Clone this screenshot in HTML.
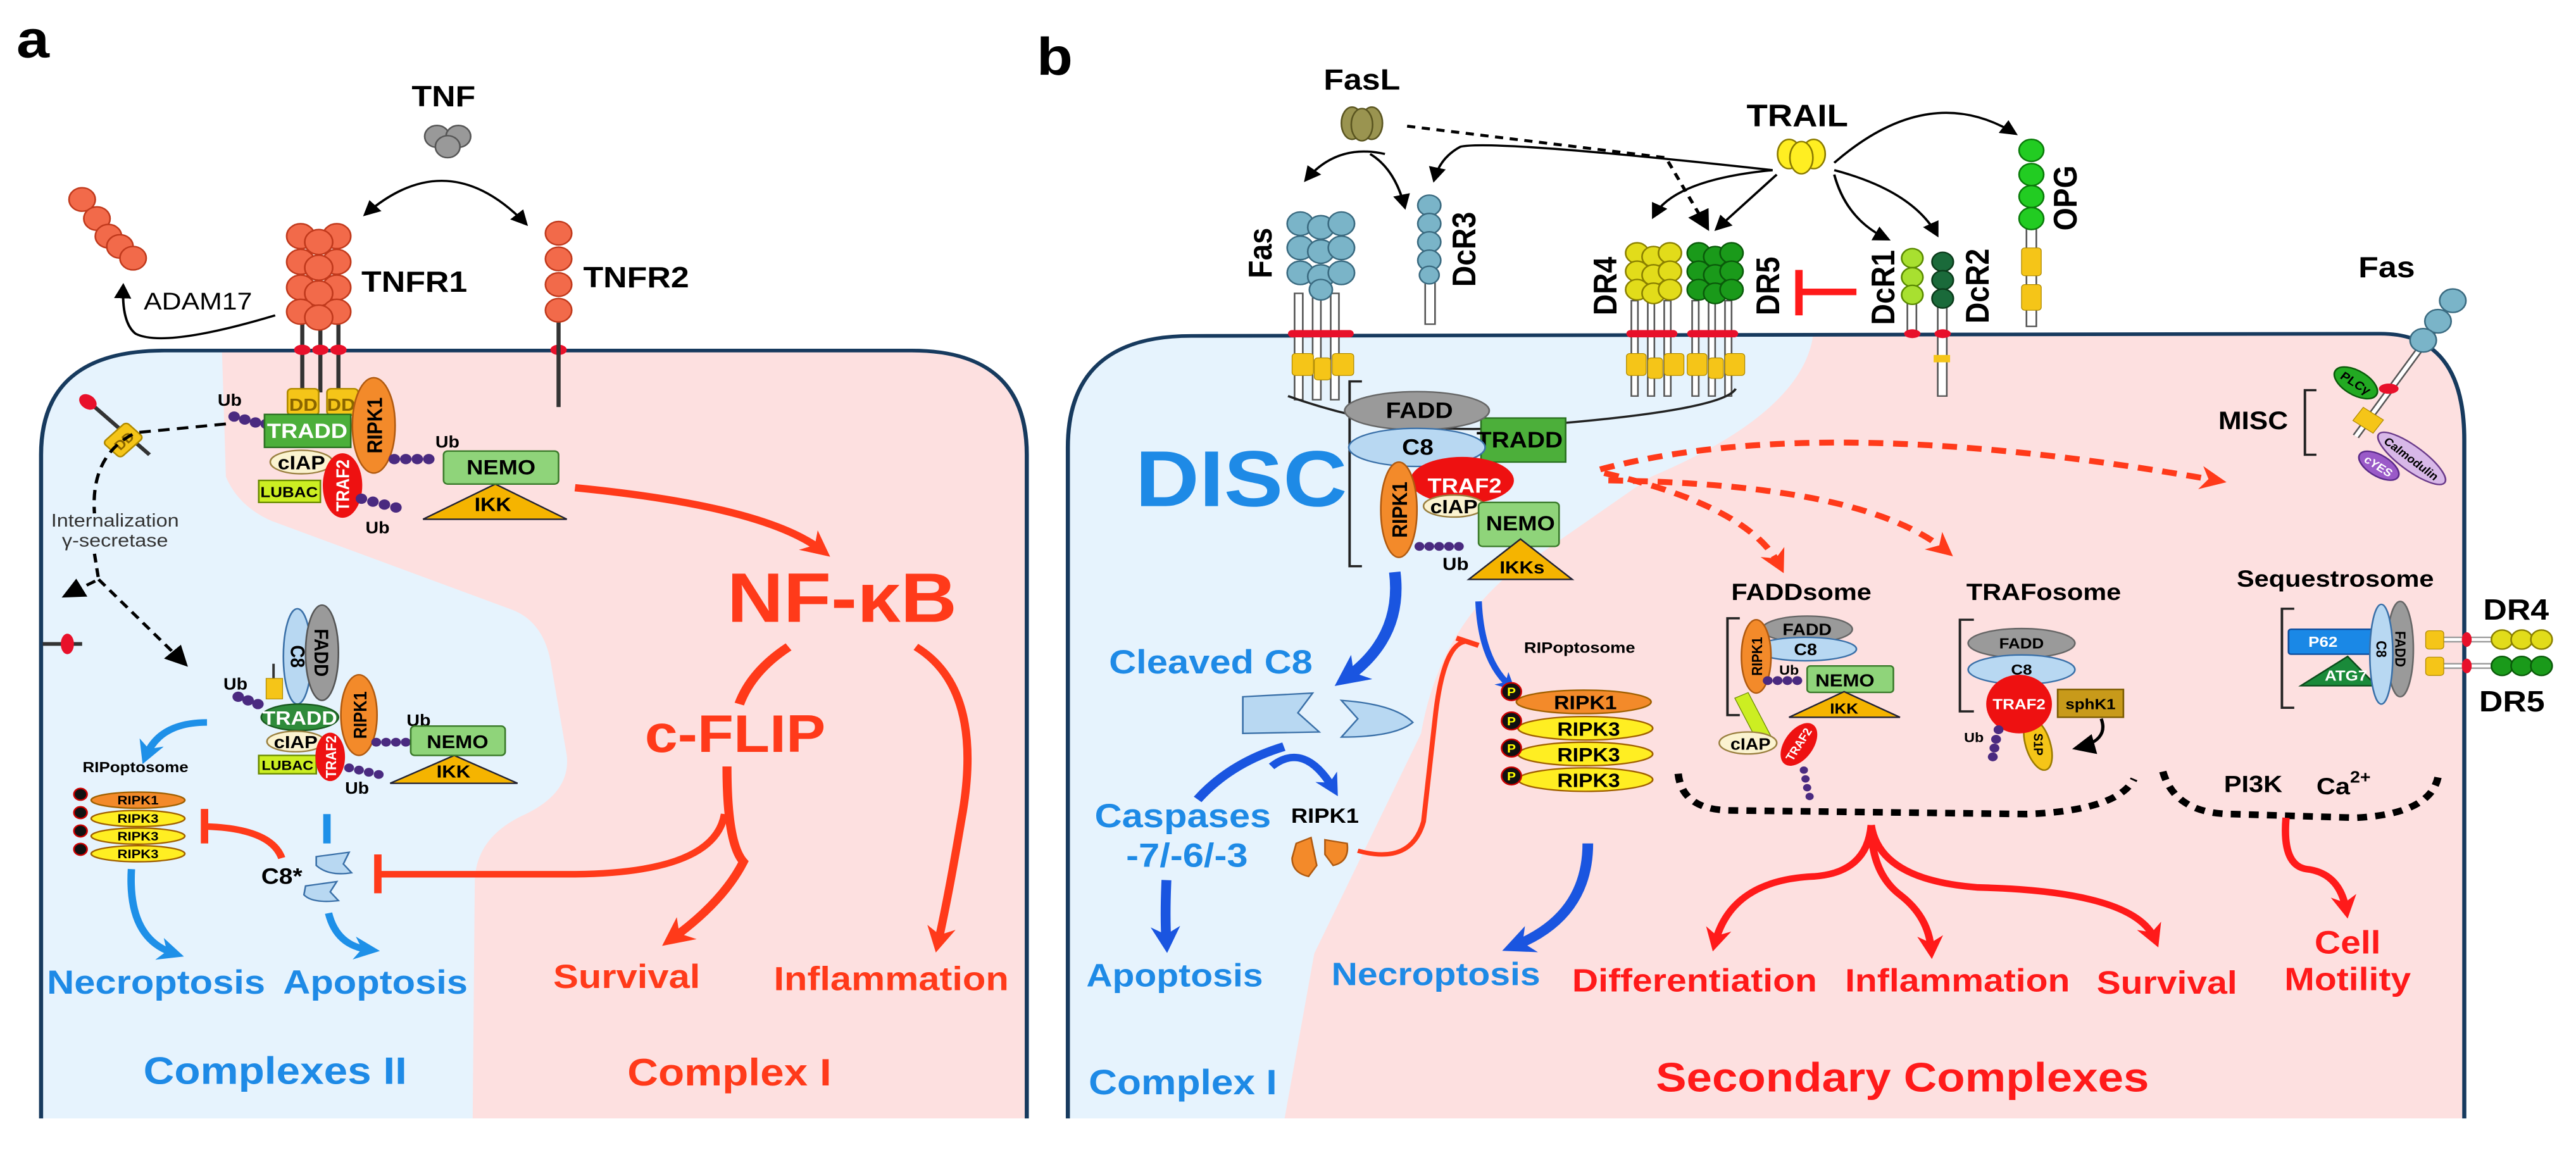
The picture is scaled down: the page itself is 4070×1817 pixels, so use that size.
<!DOCTYPE html>
<html><head><meta charset="utf-8"><style>
html,body{margin:0;padding:0;background:#fff;overflow:hidden}
svg{display:block}
text{font-family:"Liberation Sans",Arial,sans-serif;font-weight:bold}
</style></head><body>
<svg width="4070" height="1817" viewBox="0 0 3136 1568" preserveAspectRatio="none" xmlns="http://www.w3.org/2000/svg">
<defs>
<marker id="mk" viewBox="0 0 10 10" refX="8" refY="5" markerWidth="7" markerHeight="7" orient="auto-start-reverse"><path d="M0,0L10,5L0,10z" fill="#000"/></marker>
<marker id="mr" viewBox="0 0 10 10" refX="6" refY="5" markerWidth="3.5" markerHeight="3.5" orient="auto"><path d="M0,0L10,5L0,10L3,5z" fill="#ff3a1a"/></marker>
<marker id="mr2" viewBox="0 0 10 10" refX="6" refY="5" markerWidth="3.5" markerHeight="3.5" orient="auto"><path d="M0,0L10,5L0,10L3,5z" fill="#ff1a1a"/></marker>
<marker id="mrd" viewBox="0 0 10 10" refX="6" refY="5" markerWidth="4" markerHeight="4" orient="auto"><path d="M0,0L10,5L0,10L3,5z" fill="#ff3a1a"/></marker>
<marker id="mb" viewBox="0 0 10 10" refX="6" refY="5" markerWidth="3.5" markerHeight="3.5" orient="auto"><path d="M0,0L10,5L0,10L3,5z" fill="#1e90e8"/></marker>
<marker id="md" viewBox="0 0 10 10" refX="6" refY="5" markerWidth="3" markerHeight="3" orient="auto"><path d="M0,0L10,5L0,10L3,5z" fill="#1a55e0"/></marker>
<clipPath id="ca"><path d="M50,1525 L50,620 Q50,478 200,478 L1110,478 Q1250,478 1250,620 L1250,1525 Z"/></clipPath>
<clipPath id="cb"><path d="M1300,1525 L1300,610 Q1300,458 1450,458 L2898,455 Q3000,455 3000,600 L3000,1525 Z"/></clipPath>
</defs>

<path d="M50,1525 L50,620 Q50,478 200,478 L1110,478 Q1250,478 1250,620 L1250,1525 Z" fill="#e6f3fd"/>
<path clip-path="url(#ca)" d="M270,470 L275,650 Q290,690 330,710 L620,830 Q660,845 670,900 L690,1030 Q695,1080 640,1110 Q580,1140 578,1200 L575,1580 L1260,1580 L1260,470 Z" fill="#fde0e0"/>
<path d="M50,1525 L50,620 Q50,478 200,478 L1110,478 Q1250,478 1250,620 L1250,1525" fill="none" stroke="#173a5e" stroke-width="5"/>

<path d="M1300,1525 L1300,610 Q1300,458 1450,458 L2898,455 Q3000,455 3000,600 L3000,1525 Z" fill="#e6f3fd"/>
<path clip-path="url(#cb)" d="M2208,450 Q2200,560 2010,650 L1830,790 Q1750,870 1730,1000 L1600,1300 L1555,1580 L3010,1580 L3010,440 Z" fill="#fde0e0"/>
<path d="M1300,1525 L1300,610 Q1300,458 1450,458 L2898,455 Q3000,455 3000,600 L3000,1525" fill="none" stroke="#173a5e" stroke-width="5"/>

<text x="20" y="78" font-size="72">a</text>
<text x="1262" y="102" font-size="72">b</text>

<!-- ===== Panel a ===== -->
<text x="540" y="145" font-size="40" text-anchor="middle">TNF</text>
<g fill="#999" stroke="#555" stroke-width="2"><circle cx="532" cy="186" r="15"/><circle cx="558" cy="186" r="15"/><circle cx="545" cy="200" r="15"/></g>
<path d="M445,292 Q545,195 640,305" fill="none" stroke="#000" stroke-width="3" marker-start="url(#mk)" marker-end="url(#mk)"/>
<g fill="#f26a4a" stroke="#c0391c" stroke-width="2"><circle cx="100" cy="272" r="16"/><circle cx="118" cy="298" r="16"/><circle cx="132" cy="322" r="16"/><circle cx="146" cy="336" r="16"/><circle cx="162" cy="352" r="16"/></g>
<text x="175" y="422" font-size="33" style="font-weight:normal">ADAM17</text>
<path d="M335,430 Q200,475 165,455 Q148,440 150,390" fill="none" stroke="#000" stroke-width="3" marker-end="url(#mk)"/>
<g stroke="#333" stroke-width="5"><line x1="368" y1="440" x2="368" y2="535"/><line x1="390" y1="440" x2="390" y2="535"/><line x1="412" y1="440" x2="412" y2="535"/></g>
<g fill="#f26a4a" stroke="#c0391c" stroke-width="2">
<circle cx="366" cy="322" r="17"/><circle cx="410" cy="322" r="17"/><circle cx="388" cy="330" r="17"/>
<circle cx="366" cy="357" r="17"/><circle cx="410" cy="357" r="17"/><circle cx="388" cy="365" r="17"/>
<circle cx="366" cy="392" r="17"/><circle cx="410" cy="392" r="17"/><circle cx="388" cy="400" r="17"/>
<circle cx="366" cy="425" r="17"/><circle cx="410" cy="425" r="17"/><circle cx="388" cy="433" r="17"/></g>
<g fill="#e8102a"><ellipse cx="368" cy="477" rx="10" ry="7"/><ellipse cx="390" cy="477" rx="10" ry="7"/><ellipse cx="412" cy="477" rx="10" ry="7"/><ellipse cx="680" cy="477" rx="10" ry="7"/></g>
<text x="440" y="398" font-size="40">TNFR1</text>
<line x1="680" y1="420" x2="680" y2="555" stroke="#333" stroke-width="5"/>
<g fill="#f26a4a" stroke="#c0391c" stroke-width="2"><circle cx="680" cy="318" r="16"/><circle cx="680" cy="353" r="16"/><circle cx="680" cy="388" r="16"/><circle cx="680" cy="423" r="16"/></g>
<text x="710" y="392" font-size="40">TNFR2</text>
<g fill="#f5c518" stroke="#b08a00" stroke-width="2"><rect x="350" y="530" width="38" height="36" rx="5"/><rect x="398" y="530" width="38" height="36" rx="5"/></g>
<text x="352" y="560" font-size="24" fill="#8a6500">DD</text><text x="398" y="560" font-size="24" fill="#8a6500">DD</text>
<g fill="#4a2a80"><circle cx="285" cy="568" r="7"/><circle cx="298" cy="572" r="7"/><circle cx="311" cy="576" r="7"/><circle cx="324" cy="578" r="7"/></g>
<text x="265" y="553" font-size="22">Ub</text>
<rect x="322" y="565" width="105" height="45" fill="#4caf3a" stroke="#2a7020" stroke-width="2"/>
<text x="374" y="597" font-size="28" fill="#fff" text-anchor="middle">TRADD</text>
<ellipse cx="455" cy="580" rx="26" ry="65" fill="#f38a2a" stroke="#b05a10" stroke-width="2"/>
<text transform="translate(465,580) rotate(-90)" font-size="26" text-anchor="middle">RIPK1</text>
<ellipse cx="367" cy="630" rx="38" ry="16" fill="#fbf3d0" stroke="#9a8040" stroke-width="2"/>
<text x="367" y="640" font-size="26" text-anchor="middle">cIAP</text>
<rect x="315" y="655" width="75" height="30" fill="#ccee22" stroke="#6a8a00" stroke-width="2"/>
<text x="352" y="678" font-size="20" text-anchor="middle">LUBAC</text>
<ellipse cx="417" cy="662" rx="24" ry="44" fill="#ee1111"/>
<text transform="translate(425,662) rotate(-90)" font-size="22" fill="#fff" text-anchor="middle">TRAF2</text>
<g fill="#4a2a80"><circle cx="440" cy="680" r="7"/><circle cx="454" cy="684" r="7"/><circle cx="468" cy="688" r="7"/><circle cx="482" cy="692" r="7"/></g>
<text x="445" y="727" font-size="22">Ub</text>
<g fill="#4a2a80"><circle cx="480" cy="626" r="7"/><circle cx="494" cy="626" r="7"/><circle cx="508" cy="626" r="7"/><circle cx="522" cy="626" r="7"/></g>
<text x="530" y="610" font-size="22">Ub</text>
<path d="M515,708 L603,660 L690,708 Z" fill="#f5b400" stroke="#223" stroke-width="2"/>
<text x="600" y="697" font-size="26" text-anchor="middle">IKK</text>
<rect x="540" y="615" width="140" height="45" rx="5" fill="#8fd47a" stroke="#3a7a2a" stroke-width="2"/>
<text x="610" y="647" font-size="28" text-anchor="middle">NEMO</text>
<line x1="100" y1="540" x2="182" y2="620" stroke="#333" stroke-width="5"/>
<ellipse cx="107" cy="548" rx="9" ry="12" fill="#e8102a" transform="rotate(-45 107 548)"/>
<rect x="130" y="585" width="40" height="30" rx="5" fill="#f5c518" stroke="#b08a00" stroke-width="2" transform="rotate(-45 150 600)"/>
<text x="150" y="608" font-size="18" fill="#8a6500" text-anchor="middle" transform="rotate(-45 150 600)">DD</text>
<path d="M275,578 L165,590 Q110,620 115,700" fill="none" stroke="#000" stroke-width="4" stroke-dasharray="14,9"/>
<text x="140" y="718" font-size="25" style="font-weight:normal" text-anchor="middle" fill="#333">Internalization</text>
<text x="140" y="745" font-size="25" style="font-weight:normal" text-anchor="middle" fill="#333">γ-secretase</text>
<path d="M115,755 L120,790 L80,812" fill="none" stroke="#000" stroke-width="4" stroke-dasharray="12,8" marker-end="url(#mk)"/>
<path d="M120,790 L225,905" fill="none" stroke="#000" stroke-width="4" stroke-dasharray="12,8" marker-end="url(#mk)"/>
<line x1="52" y1="878" x2="100" y2="878" stroke="#333" stroke-width="5"/>
<ellipse cx="82" cy="878" rx="8" ry="14" fill="#e8102a"/>
<ellipse cx="362" cy="895" rx="17" ry="65" fill="#b8d8f2" stroke="#3a70a8" stroke-width="2"/>
<text transform="translate(354,895) rotate(90)" font-size="24" text-anchor="middle">C8</text>
<ellipse cx="392" cy="890" rx="20" ry="65" fill="#9a9a9a" stroke="#555" stroke-width="2"/>
<text transform="translate(383,890) rotate(90)" font-size="24" text-anchor="middle">FADD</text>
<line x1="333" y1="905" x2="333" y2="925" stroke="#333" stroke-width="3"/>
<rect x="324" y="925" width="20" height="28" fill="#f5c518" stroke="#b08a00"/>
<g fill="#4a2a80"><circle cx="290" cy="950" r="7"/><circle cx="302" cy="955" r="7"/><circle cx="314" cy="960" r="7"/></g>
<text x="272" y="940" font-size="22">Ub</text>
<ellipse cx="365" cy="978" rx="47" ry="18" fill="#2e8b3a" stroke="#1a5a20" stroke-width="2"/>
<text x="365" y="988" font-size="26" fill="#fff" text-anchor="middle">TRADD</text>
<ellipse cx="360" cy="1011" rx="35" ry="14" fill="#fbf3d0" stroke="#9a8040" stroke-width="2"/>
<text x="360" y="1020" font-size="24" text-anchor="middle">cIAP</text>
<rect x="315" y="1030" width="70" height="25" fill="#ccee22" stroke="#6a8a00" stroke-width="2"/>
<text x="350" y="1050" font-size="18" text-anchor="middle">LUBAC</text>
<ellipse cx="402" cy="1032" rx="18" ry="33" fill="#ee1111"/>
<text transform="translate(409,1032) rotate(-90)" font-size="18" fill="#fff" text-anchor="middle">TRAF2</text>
<ellipse cx="437" cy="975" rx="22" ry="55" fill="#f38a2a" stroke="#b05a10" stroke-width="2"/>
<text transform="translate(446,975) rotate(-90)" font-size="22" text-anchor="middle">RIPK1</text>
<g fill="#4a2a80"><circle cx="458" cy="1012" r="6"/><circle cx="470" cy="1012" r="6"/><circle cx="482" cy="1012" r="6"/><circle cx="494" cy="1012" r="6"/><circle cx="425" cy="1047" r="6"/><circle cx="437" cy="1050" r="6"/><circle cx="449" cy="1053" r="6"/><circle cx="461" cy="1056" r="6"/></g>
<text x="495" y="990" font-size="22">Ub</text><text x="420" y="1082" font-size="22">Ub</text>
<path d="M475,1068 L553,1030 L630,1068 Z" fill="#f5b400" stroke="#223" stroke-width="2"/>
<text x="552" y="1060" font-size="24" text-anchor="middle">IKK</text>
<rect x="500" y="990" width="115" height="40" rx="5" fill="#8fd47a" stroke="#3a7a2a" stroke-width="2"/>
<text x="557" y="1020" font-size="25" text-anchor="middle">NEMO</text>
<path d="M252,985 Q195,985 178,1030" fill="none" stroke="#1e90e8" stroke-width="9" marker-end="url(#mb)"/>
<text x="165" y="1053" font-size="20" text-anchor="middle">RIPoptosome</text>
<g stroke="#a06000" stroke-width="2">
<ellipse cx="168" cy="1091" rx="57" ry="11" fill="#f38a2a"/>
<ellipse cx="168" cy="1116" rx="57" ry="11" fill="#ffee22"/>
<ellipse cx="168" cy="1140" rx="57" ry="11" fill="#ffee22"/>
<ellipse cx="168" cy="1164" rx="57" ry="11" fill="#ffee22"/></g>
<g font-size="17" text-anchor="middle"><text x="168" y="1097">RIPK1</text><text x="168" y="1122">RIPK3</text><text x="168" y="1146">RIPK3</text><text x="168" y="1170">RIPK3</text></g>
<g fill="#111" stroke="#c00" stroke-width="2"><circle cx="98" cy="1083" r="8"/><circle cx="98" cy="1108" r="8"/><circle cx="98" cy="1133" r="8"/><circle cx="98" cy="1158" r="8"/></g>
<path d="M343,1170 Q330,1130 252,1127" fill="none" stroke="#ff3a1a" stroke-width="9"/>
<line x1="249" y1="1103" x2="249" y2="1150" stroke="#ff3a1a" stroke-width="9"/>
<text x="318" y="1205" font-size="30">C8*</text>
<line x1="398" y1="1110" x2="398" y2="1150" stroke="#1e90e8" stroke-width="9"/>
<path d="M385,1168 L425,1162 L418,1178 L428,1190 Q400,1195 385,1180 Z" fill="#b8d8f2" stroke="#3a70a8" stroke-width="2"/>
<path d="M372,1208 L410,1202 L402,1216 L412,1228 Q380,1232 370,1220 Z" fill="#b8d8f2" stroke="#3a70a8" stroke-width="2"/>
<path d="M160,1185 Q155,1280 212,1300" fill="none" stroke="#1e90e8" stroke-width="9" marker-end="url(#mb)"/>
<path d="M400,1245 Q410,1290 450,1295" fill="none" stroke="#1e90e8" stroke-width="9" marker-end="url(#mb)"/>
<path d="M700,665 Q930,690 1000,750" fill="none" stroke="#ff3a1a" stroke-width="10" marker-end="url(#mr)"/>
<text x="1025" y="848" font-size="95" fill="#ff3a1a" text-anchor="middle">NF-κB</text>
<path d="M960,882 Q915,915 900,960" fill="none" stroke="#ff3a1a" stroke-width="12"/>
<path d="M1115,882 Q1200,940 1170,1120 Q1155,1220 1142,1285" fill="none" stroke="#ff3a1a" stroke-width="10" marker-end="url(#mr)"/>
<text x="895" y="1025" font-size="72" fill="#ff3a1a" text-anchor="middle">c-FLIP</text>
<path d="M885,1045 Q885,1150 905,1175 Q880,1230 818,1280" fill="none" stroke="#ff3a1a" stroke-width="11" marker-end="url(#mr)"/>
<path d="M882,1110 Q870,1190 700,1192 L462,1192" fill="none" stroke="#ff3a1a" stroke-width="9"/>
<line x1="460" y1="1165" x2="460" y2="1218" stroke="#ff3a1a" stroke-width="9"/>
<g font-size="46" fill="#1e8ae6" text-anchor="middle"><text x="190" y="1355">Necroptosis</text><text x="457" y="1355">Apoptosis</text></g>
<g font-size="46" fill="#ff3a1a" text-anchor="middle"><text x="763" y="1347">Survival</text><text x="1085" y="1350">Inflammation</text></g>
<text x="335" y="1478" font-size="52" fill="#1e8ae6" text-anchor="middle">Complexes II</text>
<text x="888" y="1480" font-size="52" fill="#ff3a1a" text-anchor="middle">Complex I</text>

<!-- ===== Panel b ===== -->
<text x="1382" y="690" font-size="108" fill="#1e8ae6">DISC</text>
<text x="1350" y="918" font-size="46" fill="#1e8ae6">Cleaved C8</text>
<text x="1440" y="1128" font-size="46" fill="#1e8ae6" text-anchor="middle">Caspases</text>
<text x="1445" y="1182" font-size="46" fill="#1e8ae6" text-anchor="middle">-7/-6/-3</text>
<text x="1430" y="1345" font-size="44" fill="#1e8ae6" text-anchor="middle">Apoptosis</text>
<text x="1440" y="1492" font-size="48" fill="#1e8ae6" text-anchor="middle">Complex I</text>
<path d="M1420,1200 Q1418,1250 1420,1285" fill="none" stroke="#1a55e0" stroke-width="12" marker-end="url(#md)"/>
<text transform="translate(1548,345) rotate(-90)" font-size="40" text-anchor="middle">Fas</text>

<g transform="translate(1568,0)">
<text x="90" y="122" font-size="40" text-anchor="middle">FasL</text>
<g fill="#9a9450" stroke="#5a5520" stroke-width="2"><ellipse cx="78" cy="168" rx="13" ry="22"/><ellipse cx="102" cy="168" rx="13" ry="22"/><ellipse cx="90" cy="170" rx="13" ry="22"/></g>
<path d="M145,172 L460,215 L510,310" fill="none" stroke="#000" stroke-width="4" stroke-dasharray="10,8" marker-end="url(#mk)"/>
<path d="M118,210 Q60,195 22,245" fill="none" stroke="#000" stroke-width="3" marker-end="url(#mk)"/>
<path d="M100,210 Q130,230 142,282" fill="none" stroke="#000" stroke-width="3" marker-end="url(#mk)"/>
<text x="620" y="172" font-size="42" text-anchor="middle">TRAIL</text>
<g fill="#ffee22" stroke="#8a7a00" stroke-width="2"><ellipse cx="610" cy="210" rx="14" ry="20"/><ellipse cx="640" cy="210" rx="14" ry="20"/><ellipse cx="625" cy="215" rx="14" ry="22"/></g>
<g fill="none" stroke="#000" stroke-width="3">
<path d="M590,232 Q250,190 210,200 Q185,215 178,245" marker-end="url(#mk)"/>
<path d="M590,232 Q470,245 445,295" marker-end="url(#mk)"/>
<path d="M595,238 L522,312" marker-end="url(#mk)"/>
<path d="M665,238 Q680,300 730,326" marker-end="url(#mk)"/>
<path d="M665,232 Q760,260 790,320" marker-end="url(#mk)"/>
<path d="M665,222 Q780,110 885,182" marker-end="url(#mk)"/>
</g>
<g fill="#fff" stroke="#555" stroke-width="2"><rect x="8" y="400" width="10" height="145"/><rect x="30" y="400" width="10" height="145"/><rect x="52" y="400" width="10" height="145"/></g>
<g fill="#7ab4c8" stroke="#3a6a80" stroke-width="2">
<circle cx="15" cy="305" r="16"/><circle cx="40" cy="310" r="16"/><circle cx="65" cy="305" r="16"/>
<circle cx="15" cy="338" r="16"/><circle cx="40" cy="343" r="16"/><circle cx="65" cy="338" r="16"/>
<circle cx="15" cy="372" r="16"/><circle cx="40" cy="377" r="16"/><circle cx="65" cy="372" r="16"/>
<circle cx="40" cy="395" r="14"/></g>
<g fill="#f5c518" stroke="#b08a00"><rect x="5" y="482" width="26" height="30" rx="4"/><rect x="32" y="488" width="20" height="30" rx="4"/><rect x="54" y="482" width="26" height="30" rx="4"/></g>
<g fill="#e8102a"><rect x="0" y="450" width="80" height="10" rx="5"/></g>
<rect x="167" y="370" width="12" height="72" fill="#fff" stroke="#555" stroke-width="2"/>
<g fill="#7ab4c8" stroke="#3a6a80" stroke-width="2"><circle cx="172" cy="280" r="14"/><circle cx="172" cy="305" r="14"/><circle cx="172" cy="330" r="14"/><circle cx="172" cy="355" r="14"/><circle cx="172" cy="375" r="12"/></g>
<text transform="translate(228,340) rotate(-90)" font-size="40" text-anchor="middle">DcR3</text>
<text transform="translate(400,390) rotate(-90)" font-size="40" text-anchor="middle">DR4</text>
<g fill="#fff" stroke="#555" stroke-width="2"><rect x="418" y="410" width="8" height="130"/><rect x="438" y="410" width="8" height="130"/><rect x="458" y="410" width="8" height="130"/>
<rect x="492" y="410" width="8" height="130"/><rect x="512" y="410" width="8" height="130"/><rect x="532" y="410" width="8" height="130"/></g>
<g fill="#e2dc1a" stroke="#8a8000" stroke-width="2">
<circle cx="425" cy="345" r="14"/><circle cx="445" cy="350" r="14"/><circle cx="465" cy="345" r="14"/>
<circle cx="425" cy="370" r="14"/><circle cx="445" cy="375" r="14"/><circle cx="465" cy="370" r="14"/>
<circle cx="425" cy="395" r="14"/><circle cx="445" cy="400" r="14"/><circle cx="465" cy="395" r="14"/></g>
<g fill="#1a9a1a" stroke="#0a5a0a" stroke-width="2">
<circle cx="500" cy="345" r="14"/><circle cx="520" cy="350" r="14"/><circle cx="540" cy="345" r="14"/>
<circle cx="500" cy="370" r="14"/><circle cx="520" cy="375" r="14"/><circle cx="540" cy="370" r="14"/>
<circle cx="500" cy="395" r="14"/><circle cx="520" cy="400" r="14"/><circle cx="540" cy="395" r="14"/></g>
<g fill="#e8102a"><rect x="412" y="450" width="62" height="10" rx="5"/><rect x="486" y="450" width="62" height="10" rx="5"/></g>
<g fill="#f5c518" stroke="#b08a00"><rect x="412" y="482" width="24" height="30" rx="4"/><rect x="438" y="488" width="18" height="28" rx="4"/><rect x="458" y="482" width="24" height="30" rx="4"/>
<rect x="486" y="482" width="24" height="30" rx="4"/><rect x="512" y="488" width="18" height="28" rx="4"/><rect x="532" y="482" width="24" height="30" rx="4"/></g>
<text transform="translate(598,390) rotate(-90)" font-size="40" text-anchor="middle">DR5</text>
<line x1="622" y1="398" x2="692" y2="398" stroke="#ff1a1a" stroke-width="9"/>
<line x1="622" y1="368" x2="622" y2="430" stroke="#ff1a1a" stroke-width="9"/>
<text transform="translate(738,392) rotate(-90)" font-size="40" text-anchor="middle">DcR1</text>
<rect x="754" y="400" width="11" height="55" fill="#fff" stroke="#555" stroke-width="2"/>
<g fill="#a8e030" stroke="#5a8a00" stroke-width="2"><circle cx="760" cy="352" r="13"/><circle cx="760" cy="378" r="13"/><circle cx="760" cy="402" r="13"/></g>
<ellipse cx="760" cy="455" rx="10" ry="6" fill="#e8102a"/>
<text transform="translate(853,390) rotate(-90)" font-size="40" text-anchor="middle">DcR2</text>
<rect x="791" y="400" width="11" height="140" fill="#fff" stroke="#555" stroke-width="2"/>
<g fill="#1a6a3a" stroke="#0a3a1a" stroke-width="2"><circle cx="797" cy="357" r="13"/><circle cx="797" cy="382" r="13"/><circle cx="797" cy="407" r="13"/></g>
<ellipse cx="797" cy="455" rx="10" ry="6" fill="#e8102a"/>
<rect x="786" y="484" width="20" height="10" fill="#f5c518"/>
<rect x="899" y="300" width="12" height="145" fill="#fff" stroke="#555" stroke-width="2"/>
<g fill="#22cc22" stroke="#0a7a0a" stroke-width="2"><circle cx="905" cy="205" r="15"/><circle cx="905" cy="238" r="15"/><circle cx="905" cy="268" r="15"/><circle cx="905" cy="298" r="15"/></g>
<g fill="#f5c518" stroke="#b08a00"><rect x="893" y="338" width="24" height="38" rx="4"/><rect x="893" y="388" width="24" height="35" rx="4"/></g>
<text transform="translate(960,270) rotate(-90)" font-size="40" text-anchor="middle">OPG</text>
<path d="M0,540 Q150,600 300,580 Q530,560 545,530" fill="none" stroke="#222" stroke-width="3"/>
<path d="M90,520 L75,520 L75,772 L90,772" fill="none" stroke="#222" stroke-width="3"/>
<rect x="235" y="570" width="103" height="60" fill="#4caf3a" stroke="#2a7020" stroke-width="2"/>
<text x="282" y="610" font-size="30" text-anchor="middle">TRADD</text>
<ellipse cx="157" cy="560" rx="88" ry="26" fill="#9a9a9a" stroke="#666" stroke-width="2"/>
<text x="160" y="570" font-size="30" text-anchor="middle">FADD</text>
<ellipse cx="157" cy="610" rx="83" ry="26" fill="#b8d8f2" stroke="#3a70a8" stroke-width="2"/>
<text x="158" y="620" font-size="30" text-anchor="middle">C8</text>
<ellipse cx="212" cy="655" rx="63" ry="32" fill="#ee1111"/>
<text x="215" y="672" font-size="28" fill="#fff" text-anchor="middle">TRAF2</text>
<ellipse cx="135" cy="695" rx="22" ry="65" fill="#f38a2a" stroke="#b05a10" stroke-width="2"/>
<text transform="translate(145,695) rotate(-90)" font-size="26" text-anchor="middle">RIPK1</text>
<ellipse cx="202" cy="690" rx="37" ry="15" fill="#fbf3d0" stroke="#9a8040" stroke-width="2"/>
<text x="202" y="700" font-size="26" text-anchor="middle">cIAP</text>
<g fill="#4a2a80"><circle cx="160" cy="745" r="6"/><circle cx="172" cy="745" r="6"/><circle cx="184" cy="745" r="6"/><circle cx="196" cy="745" r="6"/><circle cx="208" cy="745" r="6"/></g>
<text x="188" y="777" font-size="24">Ub</text>
<rect x="232" y="685" width="98" height="60" rx="5" fill="#8fd47a" stroke="#3a7a2a" stroke-width="2"/>
<text x="283" y="723" font-size="28" text-anchor="middle">NEMO</text>
<path d="M220,790 L283,735 L346,790 Z" fill="#f5b400" stroke="#223" stroke-width="2"/>
<text x="285" y="782" font-size="24" text-anchor="middle">IKKs</text>
<path d="M130,780 Q140,870 70,925" fill="none" stroke="#1a55e0" stroke-width="14" marker-end="url(#md)"/>
<path d="M-55,950 L30,945 L12,972 L38,998 L-55,1000 Z" fill="#b8d8f2" stroke="#3a70a8" stroke-width="2"/>
<path d="M65,955 Q130,960 152,985 Q130,1005 65,1005 L85,980 Z" fill="#b8d8f2" stroke="#3a70a8" stroke-width="2"/>
<path d="M-5,1018 Q-70,1040 -110,1090" fill="none" stroke="#1a55e0" stroke-width="12"/>
<path d="M-20,1045 Q20,1010 55,1075" fill="none" stroke="#1a55e0" stroke-width="10" marker-end="url(#md)"/>
<text x="45" y="1122" font-size="28" text-anchor="middle">RIPK1</text>
<path d="M10,1150 L28,1142 L35,1180 L25,1195 Q5,1190 5,1170 Z" fill="#f38a2a" stroke="#b05a10" stroke-width="2"/>
<path d="M45,1145 L72,1150 Q75,1175 55,1180 L45,1165 Z" fill="#f38a2a" stroke="#b05a10" stroke-width="2"/>
<path d="M85,1160 Q150,1180 165,1120 L180,970 Q190,880 215,875" fill="none" stroke="#ff3a1a" stroke-width="6"/>
<line x1="205" y1="870" x2="232" y2="880" stroke="#ff3a1a" stroke-width="7"/>
<path d="M232,820 Q235,900 270,935" fill="none" stroke="#1a55e0" stroke-width="8" marker-end="url(#md)"/>
<text x="355" y="890" font-size="21" text-anchor="middle">RIPoptosome</text>
<g stroke="#a06000" stroke-width="2">
<ellipse cx="360" cy="957" rx="82" ry="16" fill="#f38a2a"/>
<ellipse cx="362" cy="993" rx="82" ry="16" fill="#ffee22"/>
<ellipse cx="362" cy="1028" rx="82" ry="16" fill="#ffee22"/>
<ellipse cx="362" cy="1063" rx="82" ry="16" fill="#ffee22"/></g>
<g font-size="26" text-anchor="middle"><text x="362" y="967">RIPK1</text><text x="366" y="1003">RIPK3</text><text x="366" y="1038">RIPK3</text><text x="366" y="1073">RIPK3</text></g>
<g fill="#111" stroke="#c00" stroke-width="2"><circle cx="272" cy="943" r="12"/><circle cx="272" cy="983" r="12"/><circle cx="272" cy="1020" r="12"/><circle cx="272" cy="1058" r="12"/></g>
<g fill="#ff0" font-size="16" text-anchor="middle"><text x="272" y="949">P</text><text x="272" y="989">P</text><text x="272" y="1026">P</text><text x="272" y="1064">P</text></g>
<path d="M365,1150 Q365,1250 275,1290" fill="none" stroke="#1a55e0" stroke-width="13" marker-end="url(#md)"/>
<text x="180" y="1343" font-size="44" fill="#1e8ae6" text-anchor="middle">Necroptosis</text>
<g fill="none" stroke="#ff3a1a" stroke-width="8" stroke-dasharray="18,12">
<path d="M380,640 Q650,560 1130,655" marker-end="url(#mrd)"/>
<path d="M385,645 Q560,690 598,770" marker-end="url(#mrd)"/>
<path d="M390,655 Q700,660 800,750" marker-end="url(#mrd)"/>
</g>
<text x="1175" y="585" font-size="34" text-anchor="middle">MISC</text>
<path d="M1252,532 L1238,532 L1238,620 L1252,620" fill="none" stroke="#222" stroke-width="3"/>
<line x1="1395" y1="450" x2="1300" y2="595" stroke="#555" stroke-width="9"/>
<line x1="1395" y1="450" x2="1300" y2="595" stroke="#fff" stroke-width="5"/>
<g fill="#7ab4c8" stroke="#3a6a80" stroke-width="2"><circle cx="1418" cy="410" r="16"/><circle cx="1400" cy="438" r="16"/><circle cx="1382" cy="464" r="16"/></g>
<ellipse cx="1340" cy="530" rx="12" ry="7" fill="#e8102a"/>
<ellipse cx="1300" cy="522" rx="30" ry="16" fill="#22aa22" stroke="#0a5a0a" stroke-width="2" transform="rotate(35 1300 522)"/>
<text x="1300" y="528" font-size="16" text-anchor="middle" transform="rotate(35 1300 522)">PLCγ</text>
<rect x="1300" y="562" width="30" height="22" fill="#f5c518" stroke="#b08a00" transform="rotate(35 1315 573)"/>
<ellipse cx="1368" cy="625" rx="52" ry="16" fill="#d8b8e8" stroke="#6a3a8a" stroke-width="2" transform="rotate(40 1368 625)"/>
<text x="1368" y="631" font-size="15" text-anchor="middle" transform="rotate(40 1368 625)">Calmodulin</text>
<ellipse cx="1328" cy="635" rx="28" ry="14" fill="#9a5ac8" stroke="#5a2a8a" stroke-width="2" transform="rotate(35 1328 635)"/>
<text x="1328" y="641" font-size="15" fill="#fff" text-anchor="middle" transform="rotate(35 1328 635)">cYES</text>
<text x="1372" y="378" font-size="40" text-anchor="end">Fas</text>
<text x="625" y="818" font-size="32" text-anchor="middle">FADDsome</text>
<path d="M550,843 L535,843 L535,975 L550,975" fill="none" stroke="#222" stroke-width="3"/>
<ellipse cx="632" cy="858" rx="55" ry="18" fill="#9a9a9a" stroke="#666" stroke-width="2"/>
<text x="632" y="866" font-size="22" text-anchor="middle">FADD</text>
<ellipse cx="630" cy="885" rx="62" ry="16" fill="#b8d8f2" stroke="#3a70a8" stroke-width="2"/>
<text x="630" y="893" font-size="22" text-anchor="middle">C8</text>
<ellipse cx="570" cy="895" rx="18" ry="50" fill="#f38a2a" stroke="#b05a10" stroke-width="2"/>
<text transform="translate(577,895) rotate(-90)" font-size="18" text-anchor="middle">RIPK1</text>
<rect x="632" y="908" width="105" height="36" rx="4" fill="#8fd47a" stroke="#3a7a2a" stroke-width="2"/>
<text x="678" y="936" font-size="24" text-anchor="middle">NEMO</text>
<path d="M610,978 L677,943 L745,978 Z" fill="#f5b400" stroke="#223" stroke-width="2"/>
<text x="677" y="973" font-size="20" text-anchor="middle">IKK</text>
<g fill="#4a2a80"><circle cx="584" cy="928" r="6"/><circle cx="596" cy="928" r="6"/><circle cx="608" cy="928" r="6"/><circle cx="620" cy="928" r="6"/></g>
<text x="598" y="920" font-size="18">Ub</text>
<rect x="557" y="945" width="18" height="65" fill="#ccee22" stroke="#6a8a00" transform="rotate(-25 566 978)"/>
<ellipse cx="560" cy="1013" rx="35" ry="15" fill="#fbf3d0" stroke="#9a8040" stroke-width="2"/>
<text x="563" y="1022" font-size="22" text-anchor="middle">cIAP</text>
<ellipse cx="622" cy="1015" rx="18" ry="32" fill="#ee1111" transform="rotate(30 622 1015)"/>
<text x="622" y="1020" font-size="15" fill="#fff" text-anchor="middle" transform="rotate(-60 622 1015)">TRAF2</text>
<g fill="#4a2a80"><circle cx="628" cy="1050" r="5"/><circle cx="630" cy="1062" r="5"/><circle cx="632" cy="1074" r="5"/><circle cx="635" cy="1086" r="5"/></g>
<text x="920" y="818" font-size="32" text-anchor="middle">TRAFosome</text>
<path d="M835,845 L818,845 L818,970 L835,970" fill="none" stroke="#222" stroke-width="3"/>
<ellipse cx="893" cy="877" rx="65" ry="20" fill="#9a9a9a" stroke="#666" stroke-width="2"/>
<text x="893" y="884" font-size="20" text-anchor="middle">FADD</text>
<ellipse cx="893" cy="913" rx="65" ry="20" fill="#b8d8f2" stroke="#3a70a8" stroke-width="2"/>
<text x="893" y="920" font-size="20" text-anchor="middle">C8</text>
<rect x="937" y="940" width="80" height="38" fill="#c89a1a" stroke="#7a5a00" stroke-width="2"/>
<text x="977" y="967" font-size="20" text-anchor="middle">sphK1</text>
<ellipse cx="913" cy="1015" rx="15" ry="36" fill="#f5c518" stroke="#9a7a00" stroke-width="2" transform="rotate(-15 913 1015)"/>
<text transform="translate(908,1015) rotate(90)" font-size="16" text-anchor="middle">S1P</text>
<circle cx="890" cy="960" r="40" fill="#ee1111"/>
<text x="890" y="967" font-size="20" fill="#fff" text-anchor="middle">TRAF2</text>
<g fill="#4a2a80"><circle cx="865" cy="995" r="6"/><circle cx="862" cy="1008" r="6"/><circle cx="860" cy="1020" r="6"/><circle cx="858" cy="1032" r="6"/></g>
<text x="823" y="1012" font-size="18">Ub</text>
<path d="M990,980 Q1000,1010 960,1020" fill="none" stroke="#000" stroke-width="4" marker-end="url(#mk)"/>
<text x="1275" y="800" font-size="32" text-anchor="middle">Sequestrosome</text>
<path d="M1225,830 L1210,830 L1210,965 L1225,965" fill="none" stroke="#222" stroke-width="3"/>
<rect x="1218" y="858" width="108" height="34" rx="3" fill="#1a88e6" stroke="#0a4a9a" stroke-width="2"/>
<text x="1260" y="882" font-size="20" fill="#fff" text-anchor="middle">P62</text>
<path d="M1233,935 L1290,895 L1325,935 Z" fill="#1a8a3a" stroke="#0a4a1a" stroke-width="2"/>
<text x="1288" y="928" font-size="20" fill="#fff" text-anchor="middle">ATG7</text>
<ellipse cx="1354" cy="885" rx="16" ry="65" fill="#9a9a9a" stroke="#666" stroke-width="2"/>
<text transform="translate(1348,885) rotate(90)" font-size="18" text-anchor="middle">FADD</text>
<ellipse cx="1331" cy="892" rx="14" ry="68" fill="#b8d8f2" stroke="#3a70a8" stroke-width="2"/>
<text transform="translate(1325,885) rotate(90)" font-size="18" text-anchor="middle">C8</text>
<g stroke="#999" stroke-width="8"><line x1="1405" y1="872" x2="1480" y2="872"/><line x1="1405" y1="908" x2="1480" y2="908"/></g>
<g stroke="#fff" stroke-width="4"><line x1="1405" y1="872" x2="1480" y2="872"/><line x1="1405" y1="908" x2="1480" y2="908"/></g>
<g fill="#f5c518" stroke="#b08a00"><rect x="1385" y="860" width="22" height="25" rx="4"/><rect x="1385" y="896" width="22" height="25" rx="4"/></g>
<g fill="#e8102a"><ellipse cx="1435" cy="872" rx="6" ry="10"/><ellipse cx="1435" cy="908" rx="6" ry="10"/></g>
<g fill="#e2dc1a" stroke="#8a8000" stroke-width="2"><circle cx="1478" cy="872" r="13"/><circle cx="1502" cy="872" r="13"/><circle cx="1526" cy="872" r="13"/></g>
<g fill="#1a9a1a" stroke="#0a5a0a" stroke-width="2"><circle cx="1478" cy="908" r="13"/><circle cx="1502" cy="908" r="13"/><circle cx="1526" cy="908" r="13"/></g>
<text x="1495" y="845" font-size="40" text-anchor="middle">DR4</text>
<text x="1490" y="970" font-size="40" text-anchor="middle">DR5</text>
<path d="M475,1055 Q480,1105 540,1105 L900,1110 Q1010,1105 1030,1062" fill="none" stroke="#000" stroke-width="9" stroke-dasharray="12,10"/>
<path d="M1065,1052 Q1080,1110 1150,1110 L1300,1115 Q1390,1110 1400,1060" fill="none" stroke="#000" stroke-width="9" stroke-dasharray="12,10"/>
<text x="1175" y="1080" font-size="32" text-anchor="middle">PI3K</text>
<text x="1252" y="1083" font-size="32">Ca<tspan font-size="22" dy="-16">2+</tspan></text>
<g fill="none" stroke="#ff1a1a" stroke-width="9">
<path d="M710,1125 Q705,1190 640,1195 Q540,1200 520,1285" marker-end="url(#mr2)"/>
<path d="M710,1125 Q710,1190 745,1220 Q780,1250 783,1295" marker-end="url(#mr2)"/>
<path d="M710,1125 Q720,1200 840,1210 Q1030,1215 1055,1280" marker-end="url(#mr2)"/>
<path d="M1215,1115 Q1210,1180 1240,1185 Q1280,1190 1288,1240" marker-end="url(#mr2)"/>
</g>
<g font-size="44" fill="#ff1a1a" text-anchor="middle">
<text x="495" y="1352">Differentiation</text><text x="815" y="1352">Inflammation</text><text x="1070" y="1355">Survival</text>
<text x="1290" y="1300">Cell</text><text x="1290" y="1350">Motility</text></g>
<text x="748" y="1488" font-size="56" fill="#ff1a1a" text-anchor="middle">Secondary Complexes</text>
</g>
</svg>
</body></html>
